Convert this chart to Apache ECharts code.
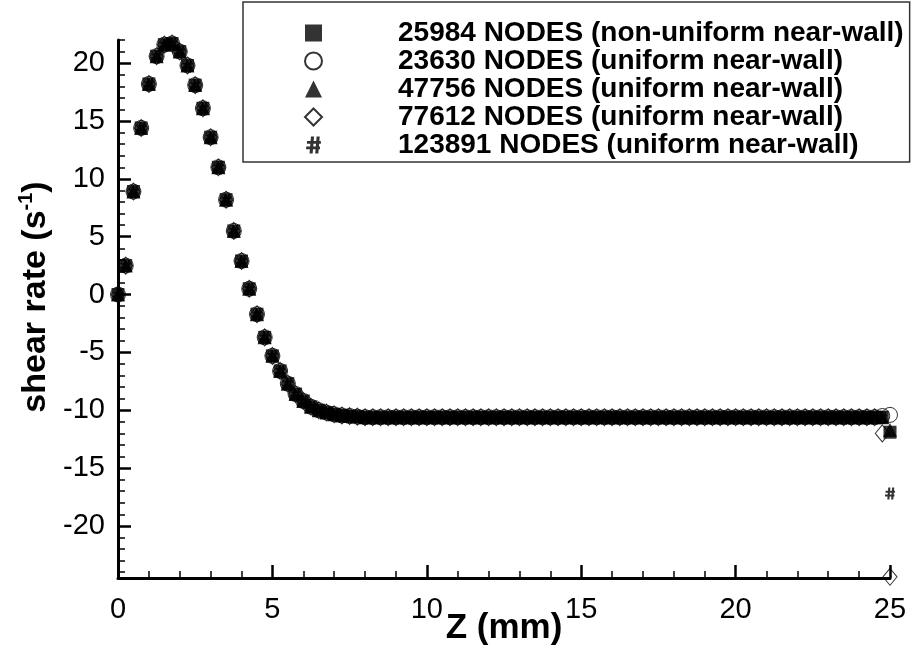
<!DOCTYPE html>
<html>
<head>
<meta charset="utf-8">
<script src="https://cdn.jsdelivr.net/npm/echarts@6/dist/echarts.min.js"></script>
<style>
  html, body { margin: 0; padding: 0; background: #ffffff; }
  #chart { width: 912px; height: 646px; }
</style>
</head>
<body>
<div id="chart"></div>
<script>
// Axial positions (mm) of the sampled wall points
const zPositions = [
  0, 0.25, 0.5, 0.75, 1, 1.25, 1.5, 1.75, 2, 2.25, 2.5, 2.75, 3, 3.25, 3.5, 3.75,
  4, 4.25, 4.5, 4.75, 5, 5.25, 5.5, 5.75, 6, 6.25, 6.5, 6.75, 7, 7.25, 7.5, 7.75,
  8, 8.25, 8.5, 8.75, 9, 9.25, 9.5, 9.75, 10, 10.25, 10.5, 10.75, 11, 11.25, 11.5, 11.75,
  12, 12.25, 12.5, 12.75, 13, 13.25, 13.5, 13.75, 14, 14.25, 14.5, 14.75, 15, 15.25, 15.5, 15.75,
  16, 16.25, 16.5, 16.75, 17, 17.25, 17.5, 17.75, 18, 18.25, 18.5, 18.75, 19, 19.25, 19.5, 19.75,
  20, 20.25, 20.5, 20.75, 21, 21.25, 21.5, 21.75, 22, 22.25, 22.5, 22.75, 23, 23.25, 23.5, 23.75,
  24, 24.25, 24.5, 24.75, 25
];

// Shear rate (1/s) common to all meshes from z = 0 to z = 24.5 mm
const shearCommon = [
  0, 2.5, 8.9, 14.4, 18.2, 20.6, 21.6, 21.7, 21.0, 19.8, 18.1, 16.1, 13.6, 11.0, 8.2, 5.5,
  2.9, 0.5, -1.7, -3.7, -5.3, -6.6, -7.7, -8.6, -9.2, -9.7, -10.0, -10.2, -10.35, -10.45, -10.5, -10.55,
  -10.6, -10.6, -10.6, -10.6, -10.6, -10.6, -10.6, -10.6, -10.6, -10.6, -10.6, -10.6, -10.6, -10.6, -10.6, -10.6,
  -10.6, -10.6, -10.6, -10.6, -10.6, -10.6, -10.6, -10.6, -10.6, -10.6, -10.6, -10.6, -10.6, -10.6, -10.6, -10.6,
  -10.6, -10.6, -10.6, -10.6, -10.6, -10.6, -10.6, -10.6, -10.6, -10.6, -10.6, -10.6, -10.6, -10.6, -10.6, -10.6,
  -10.6, -10.6, -10.6, -10.6, -10.6, -10.6, -10.6, -10.6, -10.6, -10.6, -10.6, -10.6, -10.6, -10.6, -10.6, -10.6,
  -10.6, -10.6, -10.6
];

// Values at the last two points (z = 24.75 and 25 mm), where the meshes differ
const wall25984 = [-10.6, -11.9];
const wall23630 = [-10.5, -10.4];
const wall47756 = [-10.6, -11.7];
const wall77612 = [-12.0, -24.4];
const wall123891 = [-10.6, -17.2];

const seriesNames = [
  '25984 NODES (non-uniform near-wall)',
  '23630 NODES (uniform near-wall)',
  '47756 NODES (uniform near-wall)',
  '77612 NODES (uniform near-wall)',
  '123891 NODES (uniform near-wall)'
];

const xTicks = [0, 5, 10, 15, 20, 25];
const yTicks = [-20, -15, -10, -5, 0, 5, 10, 15, 20];
const yMinorTicks = [
  -24, -23, -22, -21, -19, -18, -17, -16, -14, -13, -12, -11, -9, -8, -7, -6, -4, -3, -2, -1,
  1, 2, 3, 4, 6, 7, 8, 9, 11, 12, 13, 14, 16, 17, 18, 19, 21, 22
];

const FONT = '"Liberation Sans", Arial, Helvetica, sans-serif';
// '#' glyph drawn as a filled path
const HASH = 'path://M3.4,0L5.6,0L4.6,12L2.4,12Z M7.4,0L9.6,0L8.6,12L6.4,12Z M0.6,3.2L10.4,3.2L10.4,5.2L0.6,5.2Z M0,7L9.8,7L9.8,9L0,9Z';

function pairs(values) {
  return zPositions.map((z, i) => [z, values[i]]);
}

const markerStyles = [
  { symbol: 'rect', symbolSize: 13, itemStyle: { color: '#000', borderWidth: 0 } },
  { symbol: 'circle', symbolSize: 15, itemStyle: { color: 'rgba(0,0,0,0)', borderColor: '#000', borderWidth: 1 } },
  { symbol: 'triangle', symbolSize: 14, itemStyle: { color: '#000', borderWidth: 0 } },
  { symbol: 'diamond', symbolSize: [14, 17], itemStyle: { color: 'rgba(0,0,0,0)', borderColor: '#000', borderWidth: 1 } },
  { symbol: HASH, symbolSize: [10, 12], itemStyle: { color: '#000', borderWidth: 0 } }
];

const seriesValues = [
  shearCommon.concat(wall25984),
  shearCommon.concat(wall23630),
  shearCommon.concat(wall47756),
  shearCommon.concat(wall77612),
  shearCommon.concat(wall123891)
];

const chart = echarts.init(document.getElementById('chart'), null, { renderer: 'canvas' });

chart.setOption({
  backgroundColor: '#ffffff',
  animation: false,
  grid: { left: 118, right: 22, top: 40, bottom: 68, containLabel: false, outerBoundsMode: 'none' },
  legend: {
    orient: 'vertical',
    left: 243,
    top: 2,
    padding: [17, 6, 3, 61],
    itemGap: 0,
    itemWidth: 17,
    itemHeight: 17,
    borderColor: '#333',
    borderWidth: 1.5,
    backgroundColor: '#fff',
    selectedMode: false,
    data: seriesNames,
    textStyle: {
      fontFamily: FONT,
      fontSize: 28,
      fontWeight: 'bold',
      color: '#000',
      lineHeight: 28,
      padding: [0, 0, 0, 71]
    }
  },
  xAxis: {
    type: 'value',
    min: 0,
    max: 25,
    interval: 5,
    name: 'Z (mm)',
    nameLocation: 'middle',
    nameGap: 33,
    nameMoveOverlap: false,
    nameTextStyle: { fontFamily: FONT, fontSize: 35, fontWeight: 'bold', color: '#000' },
    axisLine: { show: true, onZero: false, lineStyle: { color: '#000', width: 3 } },
    axisTick: { show: true, inside: true, length: 13, lineStyle: { color: '#000', width: 2.5 }, customValues: xTicks },
    minorTick: { show: true, splitNumber: 5, length: 7, lineStyle: { color: '#000', width: 1.5 } },
    axisLabel: { fontFamily: FONT, fontSize: 29, color: '#000', margin: 17, customValues: xTicks },
    splitLine: { show: false },
    minorSplitLine: { show: false }
  },
  yAxis: [
    {
      type: 'value',
      min: -24.5,
      max: 22,
      position: 'left',
      name: '{t|shear rate (s}{s|-1}{t|)}',
      nameLocation: 'middle',
      nameRotate: 90,
      nameGap: 62,
      nameTextStyle: {
        padding: [0, 0, 0, 24],
        rich: {
          t: { fontFamily: FONT, fontSize: 34, fontWeight: 'bold', color: '#000', lineHeight: 38 },
          s: { fontFamily: FONT, fontSize: 20, fontWeight: 'bold', color: '#000', lineHeight: 21, verticalAlign: 'top' }
        }
      },
      axisLine: { show: true, onZero: false, lineStyle: { color: '#000', width: 3 } },
      axisTick: { show: true, inside: true, length: 13, lineStyle: { color: '#000', width: 2.5 }, customValues: yTicks },
      axisLabel: { fontFamily: FONT, fontSize: 29, color: '#000', margin: 13, customValues: yTicks },
      splitLine: { show: false }
    },
    {
      type: 'value',
      min: -24.5,
      max: 22,
      position: 'left',
      axisLine: { show: false },
      axisTick: { show: true, inside: true, length: 7, lineStyle: { color: '#000', width: 1.5 }, customValues: yMinorTicks },
      axisLabel: { show: false },
      splitLine: { show: false }
    }
  ],
  series: seriesNames.map((name, k) => ({
    name: name,
    type: 'scatter',
    yAxisIndex: 0,
    clip: false,
    symbol: markerStyles[k].symbol,
    symbolSize: markerStyles[k].symbolSize,
    itemStyle: markerStyles[k].itemStyle,
    emphasis: { disabled: true },
    data: pairs(seriesValues[k])
  }))
});
</script>
</body>
</html>
